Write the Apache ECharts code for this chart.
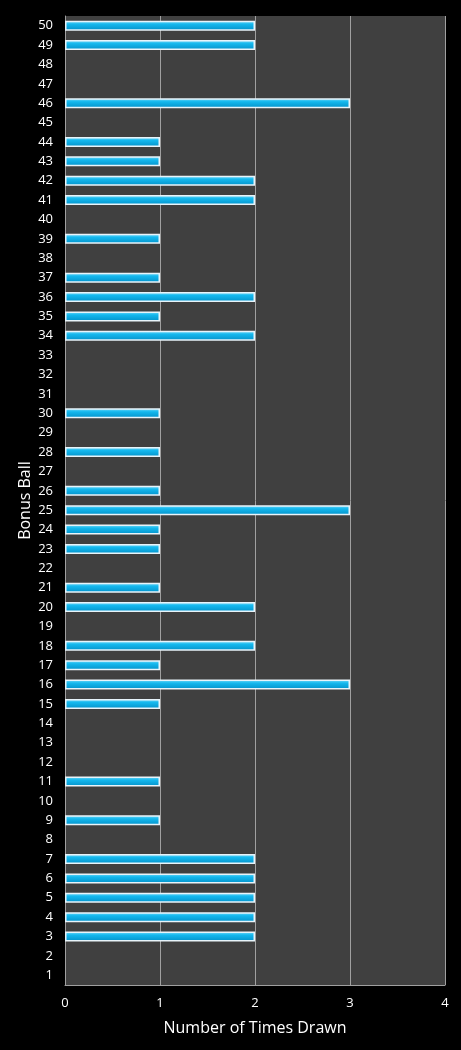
<!DOCTYPE html>
<html>
<head>
    <meta charset="utf-8">
    <title>Bonus Ball frequency</title>
    <script src="https://cdn.jsdelivr.net/npm/echarts@6/dist/echarts.min.js"></script>
    <style>
        html, body { margin: 0; padding: 0; background: #000; }
    </style>
</head>
<body>
    <div id="main" style="width:461px;height:1050px;"></div>
    <script type="text/javascript">
        // bonus ball numbers 1..50 (bottom to top)
        var balls = [];
        for (var i = 1; i <= 50; i++) balls.push(String(i));

        // times each ball was drawn, same order as balls
        var timesDrawn = [
            0, 0, 2, 2, 2, 2, 2, 0, 1, 0,
            1, 0, 0, 0, 1, 3, 1, 2, 0, 2,
            1, 0, 1, 1, 3, 1, 0, 1, 0, 1,
            0, 0, 0, 2, 1, 2, 1, 0, 1, 0,
            2, 2, 1, 1, 0, 3, 0, 0, 2, 2
        ];

        var xTicks = [0, 1, 2, 3, 4];

        var myChart = echarts.init(document.getElementById('main'));

        var labelFont = '"Open Sans", "DejaVu Sans", sans-serif';

        var option = {
            backgroundColor: '#000000',
            grid: {
                left: 65,
                right: 16,
                top: 16,
                bottom: 65,
                show: true,
                backgroundColor: '#404040',
                borderWidth: 0
            },
            xAxis: {
                type: 'value',
                min: xTicks[0],
                max: xTicks[xTicks.length - 1],
                interval: 1,
                name: 'Number of Times Drawn',
                nameLocation: 'middle',
                nameGap: 35,
                nameTextStyle: { color: '#ffffff', fontSize: 16, fontFamily: labelFont },
                axisLine: { show: true, lineStyle: { color: '#a0a0a0', width: 1 } },
                axisTick: { show: false },
                axisLabel: { color: '#ffffff', fontSize: 13, margin: 12, fontFamily: labelFont },
                splitLine: { show: true, lineStyle: { color: '#a0a0a0', width: 1 } }
            },
            yAxis: {
                type: 'category',
                data: balls,
                name: 'Bonus Ball',
                nameLocation: 'middle',
                nameGap: 32,
                nameMoveOverlap: false,
                nameRotate: 90,
                nameTextStyle: { color: '#ffffff', fontSize: 16, fontFamily: labelFont },
                axisLine: { show: true, lineStyle: { color: '#a0a0a0', width: 1 } },
                axisTick: { show: false },
                axisLabel: { color: '#ffffff', fontSize: 13, margin: 12, fontFamily: labelFont, interval: 0 },
                splitLine: { show: false }
            },
            series: [{
                type: 'bar',
                data: timesDrawn.map(function (v) { return v === 0 ? '-' : v; }),
                barWidth: 10,
                itemStyle: {
                    borderColor: '#e8f4fa',
                    borderWidth: 1.5,
                    color: {
                        type: 'linear', x: 0, y: 0, x2: 0, y2: 1,
                        colorStops: [
                            { offset: 0, color: '#7fdcf8' },
                            { offset: 0.35, color: '#14b8ee' },
                            { offset: 1, color: '#0390c8' }
                        ]
                    }
                },
                animation: false
            }]
        };

        myChart.setOption(option);
    </script>
</body>
</html>
